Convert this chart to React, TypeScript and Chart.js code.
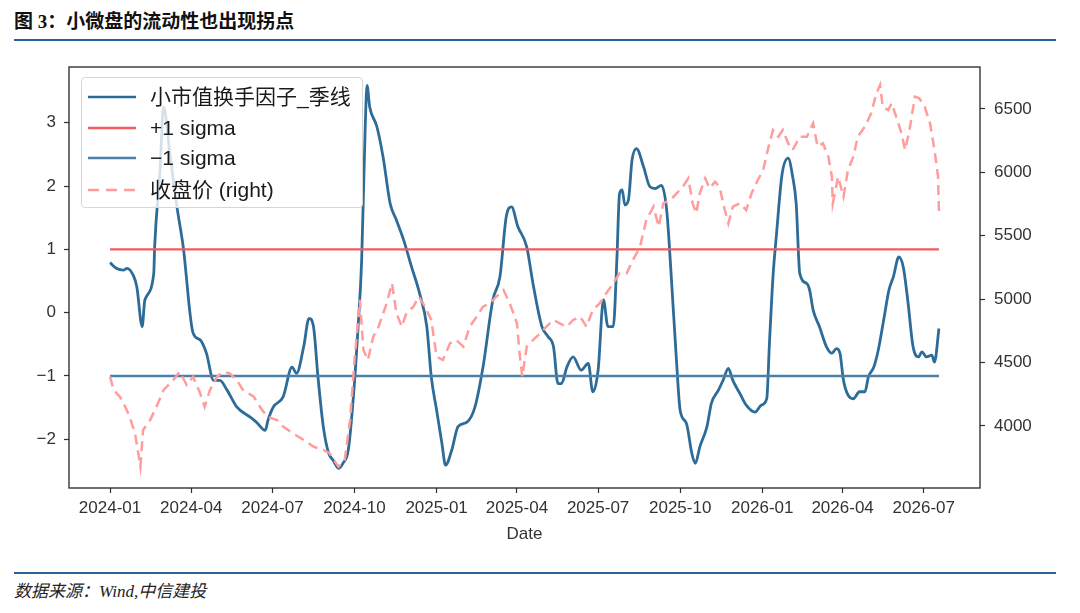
import { useEffect, useRef } from 'react'
import { Chart, registerables } from 'chart.js'
Chart.register(...registerables)

// x values are day offsets from 2024-01-01
const factorDays = [
    0, 7, 15, 19, 26, 30, 36, 39, 49, 50, 56, 60, 67, 75, 82, 93, 101, 108, 116, 123,
    131, 142, 157, 164, 174, 177, 183, 194, 204, 209, 217, 223, 228, 233, 239, 245, 250, 256, 261, 267,
    273, 278, 282, 286, 288, 291, 299, 306, 314, 321, 329, 338, 347, 355, 360, 366, 372, 376, 383, 390,
    400, 409, 418, 429, 437, 444, 450, 457, 467, 474, 484, 491, 497, 502, 506, 512, 519, 528, 536, 541,
    547, 553, 558, 564, 568, 571, 574, 577, 581, 585, 590, 598, 605, 611, 618, 624, 629, 635, 639, 646,
    652, 656, 661, 669, 674, 682, 687, 693, 698, 706, 713, 723, 730, 736, 739, 743, 747, 753, 760, 765,
    769, 773, 781, 784, 788, 795, 803, 809, 814, 818, 822, 827, 833, 840, 846, 850, 856, 861, 867, 873,
    878, 884, 889, 894, 900, 906, 910, 915, 921, 924, 929,
]
const factorValues = [
    0.79, 0.70, 0.67, 0.70, 0.59, 0.41, -0.22, 0.20, 0.62, 1.04, 2.25, 3.25, 2.52, 1.67, 1.04, -0.32, -0.43, -0.64, -1.07, -1.07,
    -1.22, -1.49, -1.65, -1.73, -1.86, -1.70, -1.49, -1.33, -0.86, -0.96, -0.54, -0.09, -0.22, -1.01, -1.80, -2.22, -2.33, -2.46, -2.38, -2.17,
    -1.28, -0.22, 0.83, 2.94, 3.59, 3.25, 2.94, 2.46, 1.72, 1.46, 1.15, 0.72, 0.30, -0.22, -1.01, -1.54, -2.07, -2.41, -2.17, -1.80,
    -1.73, -1.49, -0.86, 0.20, 0.57, 1.51, 1.67, 1.36, 1.04, 0.46, -0.22, -0.38, -0.54, -1.12, -1.12, -0.86, -0.70, -0.91, -0.80, -1.25,
    -0.91, 0.20, -0.22, -0.22, 0.83, 1.88, 1.94, 1.70, 1.78, 2.41, 2.59, 2.30, 1.99, 1.96, 2.01, 1.60, 0.57, -0.80, -1.55, -1.75,
    -2.22, -2.38, -2.12, -1.80, -1.43, -1.22, -1.07, -0.88, -1.07, -1.28, -1.46, -1.57, -1.46, -1.36, -0.49, 0.57, 1.25, 2.17, 2.44, 2.15,
    1.72, 0.62, 0.46, 0.36, 0.04, -0.22, -0.54, -0.64, -0.57, -0.64, -1.07, -1.30, -1.36, -1.25, -1.25, -1.01, -0.86, -0.59, -0.12, 0.36,
    0.57, 0.88, 0.72, 0.20, -0.54, -0.70, -0.62, -0.70, -0.67, -0.78, -0.25,
]

const priceDays = [
    0, 4, 11, 17, 22, 28, 34, 37, 45, 52, 60, 71, 78, 86, 93, 101, 106, 112, 120, 127,
    134, 142, 149, 161, 168, 176, 187, 194, 205, 217, 228, 239, 246, 256, 263, 269, 274, 280, 284, 289,
    295, 301, 310, 316, 321, 327, 332, 340, 346, 353, 360, 366, 373, 381, 388, 396, 403, 411, 418, 426,
    433, 441, 448, 456, 459, 462, 467, 474, 482, 489, 497, 504, 512, 519, 527, 534, 541, 549, 556, 564,
    571, 579, 586, 594, 601, 609, 615, 620, 628, 635, 642, 648, 653, 657, 661, 667, 672, 678, 683, 689,
    693, 698, 706, 713, 719, 726, 732, 738, 743, 749, 754, 760, 765, 773, 781, 788, 793, 799, 805, 809,
    810, 816, 822, 827, 833, 838, 846, 853, 859, 863, 866, 872, 876, 881, 887, 891, 896, 902, 907, 913,
    919, 924, 928, 929,
]
const priceValues = [
    4389, 4284, 4231, 4152, 4073, 3942, 3679, 3968, 4047, 4152, 4284, 4363, 4428, 4323, 4389, 4258, 4152, 4284, 4389, 4428,
    4415, 4363, 4284, 4231, 4152, 4073, 4047, 3995, 3942, 3890, 3837, 3811, 3785, 3679, 3732, 4047, 4520, 4994, 4600, 4520,
    4704, 4783, 4968, 5125, 4889, 4783, 4889, 4941, 5020, 4941, 4836, 4547, 4520, 4652, 4678, 4625, 4783, 4862, 4941, 4968,
    5020, 5072, 4968, 4810, 4573, 4389, 4625, 4678, 4731, 4783, 4836, 4810, 4783, 4836, 4862, 4783, 4915, 4968, 5046, 5125,
    5204, 5204, 5309, 5414, 5624, 5729, 5572, 5756, 5782, 5835, 5887, 5953, 5756, 5677, 5835, 5953, 5874, 5927, 5887, 5703,
    5598, 5729, 5756, 5703, 5835, 5940, 6019, 6203, 6334, 6281, 6334, 6229, 6176, 6281, 6281, 6387, 6203, 6229, 6124, 5966,
    5756, 5966, 5808, 6019, 6124, 6281, 6361, 6466, 6624, 6689, 6518, 6492, 6545, 6440, 6308, 6177, 6334, 6597, 6584, 6518,
    6387, 6177, 5966, 5677,
]

const sigmaDays = [0, 929]
const plusSigma = [1, 1]
const minusSigma = [-1, -1]

const xTickDays = [0, 91, 182, 274, 366, 456, 547, 639, 731, 821, 912]
const xTickLabels = ['2024-01', '2024-04', '2024-07', '2024-10', '2025-01', '2025-04', '2025-07', '2025-10', '2026-01', '2026-04', '2026-07']
const leftTicks = [-2, -1, 0, 1, 2, 3]
const rightTicks = [4000, 4500, 5000, 5500, 6000, 6500]

const FONT = '"Liberation Sans", Arial, "Noto Sans CJK SC", sans-serif'
const C_FACTOR = '#2d6c98'
const C_PLUS = '#f45b5b'
const C_MINUS = '#4a80a9'
const C_PRICE = '#ff9c9c'

const pts = (xs: number[], ys: number[]) => xs.map((x, i) => ({ x, y: ys[i] }))

const framePlugin = {
    id: 'frame',
    afterDraw(chart: Chart) {
        const { ctx, chartArea: a } = chart
        ctx.save()
        ctx.strokeStyle = '#262626'
        ctx.lineWidth = 1.3
        ctx.strokeRect(a.left, a.top, a.right - a.left, a.bottom - a.top)
        ctx.restore()
    }
}

const LEGEND = [
    { label: '小市值换手因子_季线', color: C_FACTOR, dash: false, y: 19 },
    { label: '+1 sigma', color: C_PLUS, dash: false, y: 50 },
    { label: '\u22121 sigma', color: C_MINUS, dash: false, y: 80 },
    { label: '收盘价 (right)', color: C_PRICE, dash: true, y: 112 },
]

export default function App() {
    const canvasRef = useRef<HTMLCanvasElement>(null)
    const chartRef = useRef<Chart | null>(null)

    useEffect(() => {
        if (!canvasRef.current) return
        const tickFont = { size: 17, family: FONT }
        const tickGrid = { drawOnChartArea: false, drawTicks: true, tickLength: 5, tickColor: '#333', tickWidth: 1.2 }

        chartRef.current?.destroy()
        chartRef.current = new Chart(canvasRef.current, {
            type: 'line',
            plugins: [framePlugin],
            data: {
                datasets: [
                    {
                        label: '小市值换手因子_季线', data: pts(factorDays, factorValues), yAxisID: 'y',
                        borderColor: C_FACTOR, borderWidth: 2.8, pointRadius: 0, cubicInterpolationMode: 'monotone', order: 3,
                    },
                    {
                        label: '+1 sigma', data: pts(sigmaDays, plusSigma), yAxisID: 'y',
                        borderColor: C_PLUS, borderWidth: 2.4, pointRadius: 0, order: 2,
                    },
                    {
                        label: '\u22121 sigma', data: pts(sigmaDays, minusSigma), yAxisID: 'y',
                        borderColor: C_MINUS, borderWidth: 2.4, pointRadius: 0, order: 1,
                    },
                    {
                        label: '收盘价 (right)', data: pts(priceDays, priceValues), yAxisID: 'y1',
                        borderColor: C_PRICE, borderWidth: 2.5, borderDash: [10, 6], pointRadius: 0, order: 0,
                    },
                ],
            },
            options: {
                responsive: false,
                animation: false,
                layout: { padding: { top: 67, left: 0, right: 0, bottom: 0 } },
                plugins: { legend: { display: false }, tooltip: { enabled: false } },
                scales: {
                    x: {
                        type: 'linear', min: -46, max: 975,
                        afterBuildTicks: (s: any) => { s.ticks = xTickDays.map(v => ({ value: v })) },
                        afterFit: (s: any) => { s.height = 72 },
                        grid: tickGrid,
                        border: { display: false },
                        ticks: {
                            autoSkip: false, maxRotation: 0, padding: 5, color: '#333', font: tickFont,
                            callback: (_v: any, i: number) => xTickLabels[i],
                        },
                        title: { display: true, text: 'Date', color: '#333', font: tickFont, padding: { top: 0, bottom: 15 } },
                    },
                    y: {
                        type: 'linear', position: 'left', min: -2.77, max: 3.88,
                        afterBuildTicks: (s: any) => { s.ticks = leftTicks.map(v => ({ value: v })) },
                        afterFit: (s: any) => { s.width = 69 },
                        grid: tickGrid,
                        border: { display: false },
                        ticks: {
                            padding: 8, color: '#333', font: tickFont,
                            callback: (v: any) => (Number(v) < 0 ? '\u2212' + Math.abs(Number(v)) : String(v)),
                        },
                    },
                    y1: {
                        type: 'linear', position: 'right', min: 3511, max: 6831,
                        afterBuildTicks: (s: any) => { s.ticks = rightTicks.map(v => ({ value: v })) },
                        afterFit: (s: any) => { s.width = 100 },
                        grid: tickGrid,
                        border: { display: false },
                        ticks: { padding: 9, color: '#333', font: tickFont, callback: (v: any) => String(v) },
                    },
                },
            },
        })
        return () => chartRef.current?.destroy()
    }, [])

    return (
        <div style={{ position: 'absolute', left: 0, top: 0, width: 1080, height: 613, background: 'white', overflow: 'hidden' }}>
            <div style={{
                position: 'absolute', left: 14, top: 11, fontSize: 19, lineHeight: '22px', fontWeight: 700, color: '#111',
                fontFamily: '"Liberation Serif", "Noto Sans CJK SC", serif',
            }}>
                图 3：小微盘的流动性也出现拐点
            </div>
            <div style={{ position: 'absolute', left: 14, top: 39, width: 1042, height: 2, background: '#2a6496' }} />

            <canvas ref={canvasRef} width={1080} height={560} style={{ position: 'absolute', left: 0, top: 0, width: 1080, height: 560 }} />

            <div style={{
                position: 'absolute', left: 81, top: 77, width: 282, height: 131, boxSizing: 'border-box',
                border: '1px solid #d6d6d6', borderRadius: 4, background: 'rgba(255,255,255,0.8)',
            }}>
                {LEGEND.map(item => (
                    <div key={item.label} style={{ position: 'absolute', left: 0, top: item.y - 13, height: 26, width: 280 }}>
                        <svg width={50} height={26} style={{ position: 'absolute', left: 5, top: 0 }}>
                            <line x1={1} y1={13} x2={49} y2={13} stroke={item.color} strokeWidth={2.6}
                                  strokeDasharray={item.dash ? '11 7' : undefined} />
                        </svg>
                        <span style={{
                            position: 'absolute', left: 68, top: 0, lineHeight: '26px', fontSize: 21, color: '#1a1a1a',
                            fontFamily: FONT, whiteSpace: 'nowrap',
                        }}>{item.label}</span>
                    </div>
                ))}
            </div>

            <div style={{ position: 'absolute', left: 14, top: 572, width: 1042, height: 2, background: '#2a6496' }} />
            <div style={{
                position: 'absolute', left: 14, top: 582, fontSize: 17, lineHeight: '20px', fontStyle: 'italic', color: '#222',
                fontFamily: '"Liberation Serif", "Noto Sans CJK SC", serif',
            }}>
                数据来源：Wind,中信建投
            </div>
        </div>
    )
}
